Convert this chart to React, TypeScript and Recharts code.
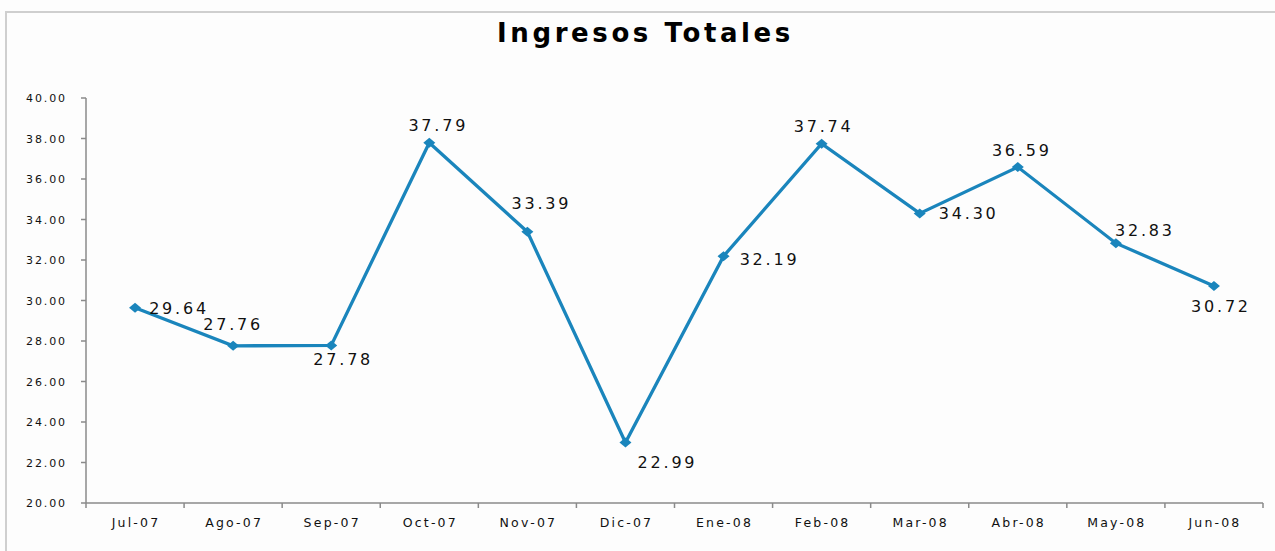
import { LineChart, Line, XAxis, YAxis } from 'recharts';

const months = ['Jul-07', 'Ago-07', 'Sep-07', 'Oct-07', 'Nov-07', 'Dic-07', 'Ene-08', 'Feb-08', 'Mar-08', 'Abr-08', 'May-08', 'Jun-08'];
const ingresos = [29.64, 27.76, 27.78, 37.79, 33.39, 22.99, 32.19, 37.74, 34.3, 36.59, 32.83, 30.72];
const yTicks = [20, 22, 24, 26, 28, 30, 32, 34, 36, 38, 40];

// where each data label sits relative to its point (dx, dy), like the Excel original
const labelOffsets: [number, number][] = [
  [44, 0], [0, -22], [12, 14], [9, -18], [14, -29], [42, 20],
  [46, 3], [2, -18], [49, 0], [4, -17], [29, -13], [7, 20],
];

const data = months.map((m, i) => ({ mes: m, valor: ingresos[i] }));

const W = 1275;
const H = 551;
const margin = { top: 98, right: 12, left: 5, bottom: 18 };
const Y_AXIS_W = 81;
const plotW = W - margin.left - margin.right - Y_AXIS_W;
const band = plotW / months.length;

const BLUE = '#1A85BC';
const AXIS = '#8a8a8a';
const FONT = '"DejaVu Sans", Verdana, sans-serif';

const XTick = (props: any) => {
  const { x, y, payload, index } = props;
  const left = x - band / 2;
  return (
    <g>
      <line x1={left} y1={y} x2={left} y2={y + 5} stroke={AXIS} strokeWidth={1.5} />
      {index === months.length - 1 && (
        <line x1={x + band / 2} y1={y} x2={x + band / 2} y2={y + 5} stroke={AXIS} strokeWidth={1.5} />
      )}
      <text x={x + 1} y={y + 24} textAnchor="middle" fontSize={12.5} letterSpacing={2.2} fill="#111" fontFamily={FONT}>
        {payload.value}
      </text>
    </g>
  );
};

const YTick = (props: any) => {
  const { x, y, payload } = props;
  return (
    <text x={x} y={y + 4} textAnchor="end" fontSize={11} letterSpacing={1.9} fill="#111" fontFamily={FONT}>
      {Number(payload.value).toFixed(2)}
    </text>
  );
};

const Diamond = (props: any) => {
  const { cx, cy } = props;
  if (cx == null || cy == null) return null;
  return <polygon points={`${cx - 6},${cy} ${cx},${cy - 5} ${cx + 6},${cy} ${cx},${cy + 5}`} fill={BLUE} />;
};

const ValueLabel = (props: any) => {
  const { x, y, value, index } = props;
  const [dx, dy] = labelOffsets[index] || [0, -18];
  return (
    <text x={x + dx} y={y + dy + 6} textAnchor="middle" fontSize={16} letterSpacing={2.8} fill="#111" fontFamily={FONT}>
      {Number(value).toFixed(2)}
    </text>
  );
};

export default function App() {
  return (
    <div style={{ position: 'absolute', left: 0, top: 0, width: W, height: H, background: '#fdfdfd', overflow: 'hidden' }}>
      <div style={{ position: 'absolute', left: 5, top: 11, width: W, height: H, borderTop: '2px solid #cfcfcf', borderLeft: '2px solid #cfcfcf' }} />
      <div
        style={{
          position: 'absolute', left: 0, top: 18, width: W, textAlign: 'center',
          fontFamily: FONT, fontWeight: 'bold', fontSize: 26, letterSpacing: 3.6, color: '#000', paddingLeft: 8,
        }}
      >
        Ingresos Totales
      </div>
      <div style={{ position: 'absolute', left: 0, top: 0 }}>
        <LineChart width={W} height={H} data={data} margin={margin}>
          <XAxis
            dataKey="mes"
            scale="band"
            stroke={AXIS}
            strokeWidth={1.5}
            tickLine={false}
            tickSize={0}
            tickMargin={0}
            height={30}
            interval={0}
            tick={<XTick />}
          />
          <YAxis
            domain={[20, 40]}
            ticks={yTicks}
            width={Y_AXIS_W}
            stroke={AXIS}
            strokeWidth={1.5}
            tickSize={5}
            tickMargin={14}
            interval={0}
            tick={<YTick />}
          />
          <Line
            type="linear"
            dataKey="valor"
            stroke={BLUE}
            strokeWidth={3.3}
            dot={<Diamond />}
            activeDot={false}
            label={<ValueLabel />}
            isAnimationActive={false}
          />
        </LineChart>
      </div>
    </div>
  );
}
